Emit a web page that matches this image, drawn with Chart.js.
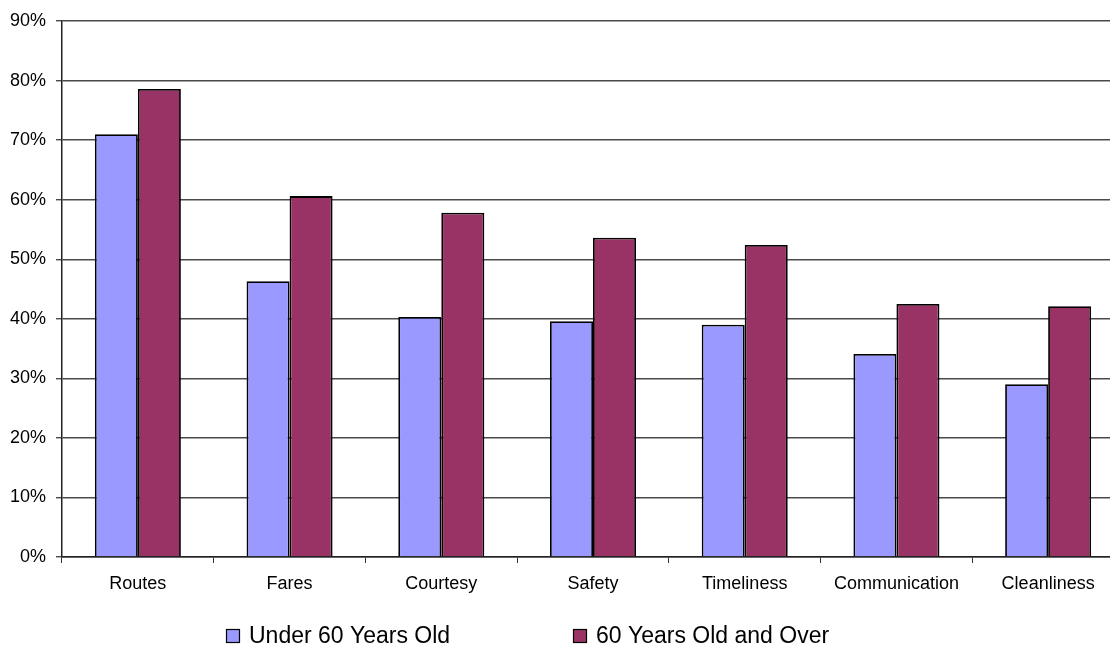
<!DOCTYPE html>
<html>
<head>
<meta charset="utf-8">
<script src="https://cdn.jsdelivr.net/npm/chart.js@4/dist/chart.umd.min.js"></script>
<style>
  html, body { margin: 0; padding: 0; background: #fff; overflow: hidden; }
  #wrap { position: relative; width: 1130px; height: 647px; }
</style>
</head>
<body>
<div id="wrap"><canvas id="c"></canvas></div>
<script>
// Service attributes rated by riders, split by age group (percent)
const categories = ['Routes', 'Fares', 'Courtesy', 'Safety', 'Timeliness', 'Communication', 'Cleanliness'];
const under60 = [71.0, 46.3, 40.3, 39.6, 39.0, 34.1, 29.0];
const over60 = [78.6, 60.6, 57.8, 53.6, 52.4, 42.5, 42.1];
const seriesNames = ['Under 60 Years Old', '60 Years Old and Over'];
const yTicks = [0, 10, 20, 30, 40, 50, 60, 70, 80, 90];

const FONT = "'Liberation Sans', Arial, sans-serif";

// Legend drawn beneath the axis, spaced like a spreadsheet chart legend
const legendBoxX = [226, 573];
const bottomLegend = {
  id: 'bottomLegend',
  afterDraw(chart) {
    const ctx = chart.ctx;
    const cy = 636;
    const box = 14;
    ctx.save();
    ctx.font = '23px ' + FONT;
    ctx.textBaseline = 'middle';
    ctx.textAlign = 'left';
    chart.data.datasets.forEach((ds, i) => {
      const x = legendBoxX[i];
      ctx.fillStyle = ds.backgroundColor;
      ctx.fillRect(x, cy - box / 2, box, box);
      ctx.strokeStyle = '#000';
      ctx.lineWidth = 1.2;
      ctx.strokeRect(x + 0.5, cy - box / 2 + 0.5, box - 1, box - 1);
      ctx.fillStyle = '#000';
      ctx.fillText(ds.label, x + box + 9, cy + 1);
    });
    ctx.restore();
  }
};

new Chart(document.getElementById('c'), {
  type: 'bar',
  data: {
    labels: categories,
    datasets: [
      {
        label: seriesNames[0],
        data: under60,
        backgroundColor: '#9999FF',
        borderColor: '#000',
        borderWidth: 1.8,
        borderSkipped: 'bottom',
        categoryPercentage: 0.567,
        barPercentage: 1.0
      },
      {
        label: seriesNames[1],
        data: over60,
        backgroundColor: '#993366',
        borderColor: '#000',
        borderWidth: 1.8,
        borderSkipped: 'bottom',
        categoryPercentage: 0.567,
        barPercentage: 1.0
      }
    ]
  },
  options: {
    responsive: true,
    maintainAspectRatio: false,
    animation: false,
    devicePixelRatio: 1,
    layout: { padding: { top: 21, right: 6, left: 0, bottom: 0 } },
    plugins: {
      legend: { display: false },
      tooltip: { enabled: false },
      title: { display: false }
    },
    scales: {
      x: {
        offset: true,
        grid: {
          display: true,
          drawOnChartArea: false,
          offset: true,
          tickLength: 6,
          color: '#333',
          lineWidth: 1
        },
        border: { color: '#222', width: 1.5 },
        ticks: {
          color: '#000',
          font: { family: FONT, size: 18 },
          padding: 10,
          maxRotation: 0,
          autoSkip: false
        },
        afterFit(scale) { scale.height = 90; }
      },
      y: {
        min: 0,
        max: 90,
        afterBuildTicks(scale) { scale.ticks = yTicks.map(v => ({ value: v })); },
        grid: {
          color: '#4a4a4a',
          lineWidth: 1.4,
          tickLength: 6
        },
        border: { color: '#222', width: 1.5 },
        ticks: {
          color: '#000',
          font: { family: FONT, size: 18 },
          padding: 10,
          callback: (v) => v + '%'
        },
        afterFit(scale) { scale.width = 62; }
      }
    }
  },
  plugins: [bottomLegend]
});
</script>
</body>
</html>
